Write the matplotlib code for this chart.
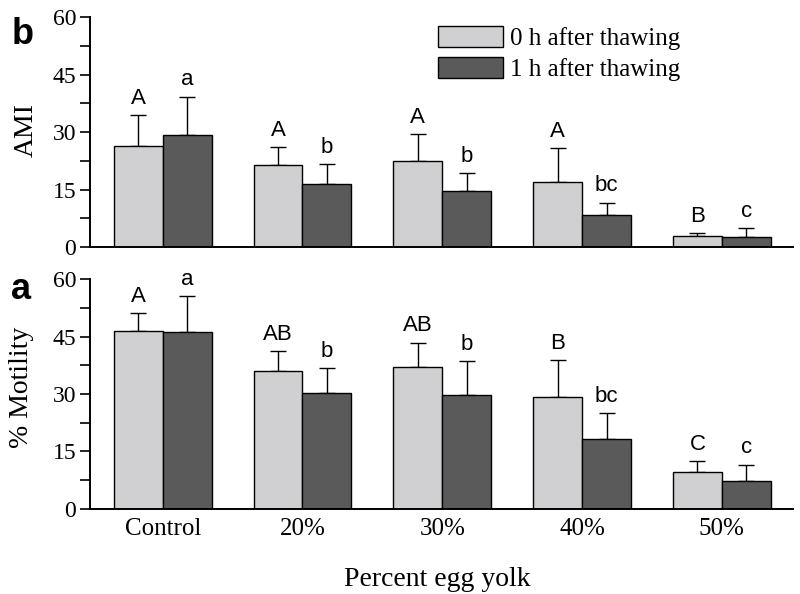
import matplotlib
matplotlib.use("Agg")
import matplotlib.pyplot as plt
import numpy as np

categories = ["Control", "20%", "30%", "40%", "50%"]
series_names = ["0 h after thawing", "1 h after thawing"]

ami_0h = [26.3, 21.4, 22.6, 17.0, 2.9]
ami_0h_err = [8.1, 4.7, 6.9, 8.9, 0.8]
ami_1h = [29.2, 16.4, 14.6, 8.3, 2.7]
ami_1h_err = [10.1, 5.2, 4.8, 3.3, 2.3]
ami_0h_letters = ["A", "A", "A", "A", "B"]
ami_1h_letters = ["a", "b", "b", "bc", "c"]

mot_0h = [46.4, 35.9, 37.0, 29.3, 9.5]
mot_0h_err = [4.8, 5.2, 6.4, 9.6, 3.0]
mot_1h = [46.1, 30.3, 29.7, 18.2, 7.3]
mot_1h_err = [9.4, 6.4, 8.8, 6.8, 4.2]
mot_0h_letters = ["A", "AB", "AB", "B", "C"]
mot_1h_letters = ["a", "b", "b", "bc", "c"]

yticks = [0, 15, 30, 45, 60]

light = "#d0d0d2"
dark = "#5a5a5a"
serif = "Liberation Serif"
sans = "Liberation Sans"

fig = plt.figure(figsize=(8, 5.94), dpi=100)
ax_top = fig.add_axes([0.1125, 0.584, 0.879, 0.387])
ax_bot = fig.add_axes([0.1125, 0.1436, 0.879, 0.3864])

x = np.arange(len(categories))
w = 0.35


def draw(ax, v0, e0, v1, e1, l0, l1):
    ax.bar(x - w / 2, v0, w, color=light, edgecolor="black", linewidth=1.0,
           label=series_names[0], zorder=2)
    ax.bar(x + w / 2, v1, w, color=dark, edgecolor="black", linewidth=1.0,
           label=series_names[1], zorder=2)
    for xs, v, e in ((x - w / 2, v0, e0), (x + w / 2, v1, e1)):
        ax.errorbar(xs, v, yerr=[np.zeros(len(v)), e], fmt="none",
                    ecolor="black", elinewidth=1.0, capsize=6, capthick=1.0,
                    zorder=1)
    for xs, v, e, labs in ((x - w / 2, v0, e0, l0), (x + w / 2, v1, e1, l1)):
        for xi, vi, ei, lab in zip(xs, v, e, labs):
            ax.annotate(lab, (xi, vi + ei), xytext=(0, 4.5),
                        textcoords="offset points", ha="center", va="bottom",
                        fontsize=16, family=sans)
    ax.set_xlim(-0.52, 4.51)
    ax.set_ylim(0, 60)
    ax.set_yticks(yticks)
    ax.set_yticks([7.5, 22.5, 37.5, 52.5], minor=True)
    for s in ("top", "right"):
        ax.spines[s].set_visible(False)
    for s in ("left", "bottom"):
        ax.spines[s].set_linewidth(1.4)
    ax.tick_params(axis="y", which="both", direction="out", length=7,
                   width=1.2, labelsize=17, pad=3)
    ax.tick_params(axis="x", length=0, pad=7, labelsize=18)
    for t in ax.get_yticklabels():
        t.set_family(serif)
    for t in ax.get_xticklabels():
        t.set_family(serif)


draw(ax_top, ami_0h, ami_0h_err, ami_1h, ami_1h_err, ami_0h_letters, ami_1h_letters)
draw(ax_bot, mot_0h, mot_0h_err, mot_1h, mot_1h_err, mot_0h_letters, mot_1h_letters)

ax_top.set_xticks(x)
ax_top.set_xticklabels([])
ax_bot.set_xticks(x)
ax_bot.set_xticklabels(categories, family=serif, fontsize=18)

ax_top.set_ylabel("AMI", family=serif, fontsize=20)
ax_bot.set_ylabel("% Motility", family=serif, fontsize=20)
ax_bot.set_xlabel("Percent egg yolk", family=serif, fontsize=20, labelpad=12)
ax_bot.xaxis.set_label_coords(0.494, -0.255)
ax_top.yaxis.set_label_coords(-0.0725, 0.51)
ax_bot.yaxis.set_label_coords(-0.079, 0.53)

leg = ax_top.legend(loc="upper left", bbox_to_anchor=(0.481, 1.005), frameon=False,
                    prop={"family": serif, "size": 18}, handlelength=2.6,
                    handleheight=0.88, handletextpad=0.27, labelspacing=0.3,
                    borderaxespad=0)

fig.text(0.014, 0.926, "b", family=sans, fontweight="bold", fontsize=26)
fig.text(0.014, 0.497, "a", family=sans, fontweight="bold", fontsize=26)

fig.savefig("out.png", dpi=100)
